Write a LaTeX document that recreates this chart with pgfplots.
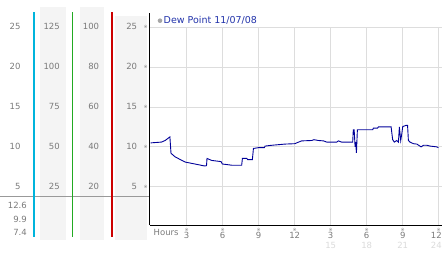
\documentclass[border=0pt]{standalone}
\usepackage{pgfplots}
\pgfplotsset{compat=1.18}
\usepackage{fontspec}
\setmainfont{DejaVu Sans}
\definecolor{tickgray}{HTML}{7A7A7A}
\definecolor{band}{HTML}{F4F4F4}
\definecolor{gridc}{HTML}{DDDDDD}
\definecolor{dew}{HTML}{000099}
\definecolor{lightlbl}{HTML}{DADADA}
\definecolor{legtxt}{HTML}{2233AA}
\definecolor{sep}{HTML}{999999}
\definecolor{lineA}{HTML}{00B4DC}
\definecolor{lineB}{HTML}{22AA22}
\definecolor{lineC}{HTML}{CC0000}
\begin{document}
\begin{tikzpicture}[x=1pt,y=1pt]
\useasboundingbox (0,0) rectangle (442,253);
% bands
\fill[band] (40,13) rectangle (65.7,246);
\fill[band] (80,13) rectangle (104,246);
\fill[band] (115,13) rectangle (146.7,237);
% separator
\fill[sep] (0,55.5) rectangle (149,57);
% colored scale lines
\fill[lineA] (32.5,16) rectangle (34.5,241);
\fill[lineB] (71.8,16) rectangle (73.2,241);
\fill[lineC] (110.5,16) rectangle (112.5,241);
% scale labels
\begin{scope}[font=\fontsize{8.5}{9}\selectfont, text=tickgray, inner sep=0pt]
\foreach \v/\a/\b in {25/125/100, 20/100/80, 15/75/60, 10/50/40, 5/25/20}{
  \node[anchor=east] at (20.7,{26.3+8*\v}) {\v};
  \node[anchor=east] at (60,{26.3+8*\v}) {\a};
  \node[anchor=east] at (99.3,{26.3+8*\v}) {\b};
  \node[anchor=east] at (137.3,{26.3+8*\v}) {\v};
  \node[font=\fontsize{4.5}{5}\selectfont, text=gray] at (145.7,{26.3+8*\v}) {※};
}
\node[anchor=east] at (27,48) {12.6};
\node[anchor=east] at (27,34) {9.9};
\node[anchor=east] at (27,21) {7.4};
\node[anchor=west] at (153.5,20.3) {Hours};
\foreach \h/\l/\m in {3/3/, 6/6/, 9/9/, 12/12/, 15/3/15, 18/6/18, 21/9/21}{
  \node[font=\fontsize{4.5}{5}\selectfont, text=gray] at ({150.7+12*\h},23.5) {※};
  \node at ({150.7+12*\h},17.5) {\l};
  \node[text=lightlbl] at ({150.7+12*\h},8) {\m};
}
\node[font=\fontsize{4.5}{5}\selectfont, text=gray] at (438.7,23.5) {※};
\node[anchor=east] at (442,17.5) {12};
\node[anchor=east, text=lightlbl] at (442,8) {24};
\end{scope}
\begin{axis}[
  at={(149.5pt,28pt)}, anchor=south west,
  scale only axis, width=292.5pt, height=197.7pt,
  xmin=-0.1, xmax=24.27, ymin=0.2, ymax=25,
  axis x line=bottom, axis y line=left,
  axis line style={-, black, line width=0.9pt},
  xtick={3,6,9,12,15,18,21,24}, ytick={5,10,15,20,25},
  xticklabels={}, yticklabels={},
  major tick length=0pt,
  grid=major, grid style={gridc, line width=0.8pt},
  clip=false,
]
\addplot[dew, line width=0.9pt, mark=none] coordinates {
(0,10.5) (0.9,10.6) (1.2,10.8) (1.6,11.25) (1.69,9.2) (2.03,8.75) (2.86,8.1)
(3.69,7.85) (4.5,7.6) (4.65,7.65) (4.69,8.55) (5.08,8.3) (5.86,8.15) (5.97,7.85)
(6.75,7.7) (7.58,7.7) (7.64,8.55) (8.0,8.55) (8.08,8.4) (8.47,8.4) (8.56,9.8)
(8.97,9.9) (9.47,9.9) (9.53,10.1) (10.08,10.2) (11.19,10.35) (12.03,10.4)
(12.16,10.5) (12.58,10.75) (13.42,10.8) (13.6,10.9) (13.97,10.8) (14.4,10.75)
(14.67,10.6) (15.5,10.6) (15.64,10.75) (15.9,10.6) (16.83,10.6) (16.88,12.15)
(16.95,12.15) (17.03,10.0) (17.08,10.6) (17.14,9.25) (17.22,12.15) (18.5,12.15)
(18.55,12.35) (18.9,12.35) (18.97,12.5) (20.03,12.5) (20.16,10.9) (20.3,10.6)
(20.5,10.8) (20.64,10.6) (20.72,12.5) (20.83,10.8) (20.92,11.65) (21.0,12.55)
(21.28,12.7) (21.4,12.7) (21.47,10.8) (21.6,10.6) (21.89,10.4) (22.17,10.35)
(22.53,10.0) (22.72,10.2) (23.0,10.2) (23.28,10.1) (23.83,10.0) (23.97,9.9)
};
\end{axis}
% extend left axis line upward
\draw[black, line width=0.9pt] (149.5,225) -- (149.5,240);
% legend
\fill[gray!70] (160,232.3) circle (2.3);
\node[anchor=west, inner sep=0pt, text=legtxt, font=\fontsize{9.5}{10}\selectfont] at (163.5,232.3) {Dew Point 11/07/08};
\end{tikzpicture}
\end{document}
